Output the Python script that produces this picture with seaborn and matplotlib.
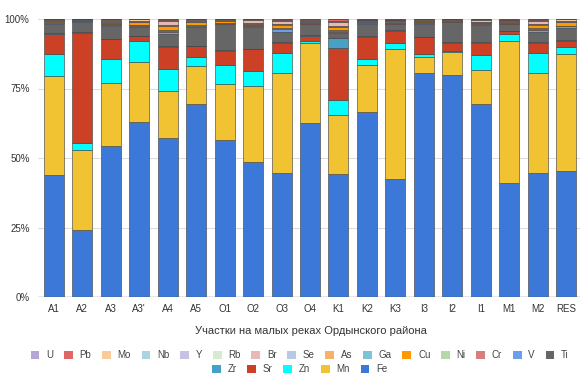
import numpy as np
import pandas as pd
import matplotlib
matplotlib.use("Agg")
import matplotlib.pyplot as plt
import seaborn as sns
from matplotlib.patches import Patch
from matplotlib.ticker import PercentFormatter

sites = ["A1", "A2", "A3", "A3'", "A4", "A5", "O1", "O2", "O3", "O4",
         "K1", "K2", "K3", "I3", "I2", "I1", "M1", "M2", "RES"]

# element shares, %
Fe = [43.9, 24.3, 54.4, 63.1, 57.1, 69.7, 56.4, 48.5, 44.5, 62.8, 44.1, 66.5, 42.4, 80.7, 79.9, 69.4, 41.0, 44.5, 45.3]
Mn = [35.8, 28.6, 22.7, 21.6, 17.2, 13.5, 20.5, 27.6, 35.9, 28.7, 21.4, 17.0, 46.7, 5.7, 8.3, 12.3, 51.1, 35.9, 42.4]
Zn = [7.8, 2.5, 8.4, 7.6, 7.6, 3.2, 6.6, 5.2, 7.1, 0.9, 5.4, 2.2, 2.4, 0.9, 0.6, 5.4, 2.5, 7.3, 2.2]
Sr = [7.2, 39.7, 7.2, 1.7, 8.1, 4.0, 5.3, 7.8, 3.8, 1.8, 18.8, 7.9, 4.3, 6.1, 2.8, 4.4, 1.1, 3.6, 2.4]
Zr = [0.3, 0.2, 0.3, 0.2, 0.3, 0.2, 0.2, 0.2, 0.3, 0.2, 3.4, 0.2, 0.2, 0.2, 0.2, 0.2, 0.1, 0.3, 0.2]
Ti = [3.3, 3.7, 4.6, 3.2, 4.4, 6.7, 9.2, 8.0, 3.7, 3.8, 1.8, 4.4, 2.0, 4.7, 7.1, 6.2, 2.3, 3.7, 4.5]
V  = [0.3, 0.2, 0.4, 0.4, 0.8, 0.3, 0.2, 0.4, 0.8, 0.2, 0.4, 0.3, 0.3, 0.3, 0.3, 0.3, 0.3, 0.8, 0.5]
Cr = [0.2, 0.2, 0.2, 0.2, 0.3, 0.2, 0.2, 0.2, 0.3, 0.2, 0.4, 0.2, 0.2, 0.2, 0.1, 0.2, 0.2, 0.3, 0.2]
Ni = [0.1, 0.1, 0.1, 0.1, 0.2, 0.1, 0.1, 0.1, 0.2, 0.1, 0.2, 0.1, 0.1, 0.1, 0.1, 0.1, 0.1, 0.2, 0.1]
Cu = [0.5, 0.1, 0.3, 0.8, 1.4, 1.0, 0.6, 0.3, 1.1, 0.3, 1.0, 0.3, 0.4, 0.3, 0.1, 0.3, 0.3, 1.2, 1.2]
Ga = [0.1, 0.05, 0.1, 0.1, 0.3, 0.1, 0.1, 0.1, 0.2, 0.1, 0.3, 0.1, 0.1, 0.1, 0.05, 0.1, 0.1, 0.2, 0.1]
As = [0.1, 0.05, 0.1, 0.1, 0.3, 0.1, 0.1, 0.1, 0.2, 0.1, 0.2, 0.1, 0.1, 0.1, 0.05, 0.1, 0.1, 0.2, 0.1]
Se = [0.05] * 19
Br = [0.1, 0.05, 0.6, 0.3, 1.2, 0.4, 0.2, 1.1, 1.0, 0.2, 1.4, 0.2, 0.2, 0.2, 0.1, 0.5, 0.2, 1.0, 0.2]
Rb = [0.05] * 19
Y  = [0.05] * 19
Nb = [0.05] * 19
Mo = [0.1, 0.05, 0.3, 0.4, 0.4, 0.3, 0.1, 0.1, 0.3, 0.3, 0.2, 0.1, 0.1, 0.1, 0.1, 0.1, 0.1, 0.3, 0.4]
Pb = [0.1, 0.05, 0.1, 0.1, 0.2, 0.1, 0.1, 0.1, 0.2, 0.2, 0.7, 0.2, 0.2, 0.1, 0.1, 0.1, 0.3, 0.2, 0.1]
U  = [0.05] * 19

elements = ["U", "Pb", "Mo", "Nb", "Y", "Rb", "Br", "Se", "As", "Ga",
            "Cu", "Ni", "Cr", "V", "Ti", "Zr", "Sr", "Zn", "Mn", "Fe"]
series = [U, Pb, Mo, Nb, Y, Rb, Br, Se, As, Ga, Cu, Ni, Cr, V, Ti, Zr, Sr, Zn, Mn, Fe]
colors = ["#b4a7d6", "#e06666", "#f9cb9c", "#a9d5e0", "#c9c1e3", "#d9ead3",
          "#e6b8b7", "#b8c9e1", "#f6b26b", "#7fc3d6", "#ff9900", "#b6d7a8",
          "#d67f7f", "#6d9eeb", "#666666", "#45a1c5", "#cc4125", "#00ffff",
          "#f1c232", "#3c78d8"]

rows = []
for el, vals in zip(elements, series):
    for s, v in zip(sites, vals):
        rows.append({"site": s, "element": el, "value": v})
df = pd.DataFrame(rows)
df["site"] = pd.Categorical(df["site"], categories=sites, ordered=True)

sns.set_theme(style="white")
plt.rcParams["font.family"] = ["Liberation Sans", "DejaVu Sans"]

fig = plt.figure(figsize=(5.82, 3.78), dpi=100)
ax = fig.add_axes([38 / 582, 1 - 297 / 378, (580 - 38) / 582, (297 - 19) / 378])

sns.histplot(data=df, x="site", weights="value", hue="element",
             hue_order=elements, palette=dict(zip(elements, colors)),
             multiple="fill", discrete=True, shrink=0.7, alpha=1,
             edgecolor=(0.25, 0.25, 0.25, 0.7), linewidth=0.6,
             legend=False, ax=ax)

ax.set_xlim(-0.56, 18.49)
ax.set_ylim(0, 1.0)
ax.set_yticks([0, 0.25, 0.5, 0.75, 1.0])
ax.yaxis.set_major_formatter(PercentFormatter(1.0, decimals=0))
ax.set_xticks(range(len(sites)))
ax.set_xticklabels(sites)
ax.tick_params(axis="both", length=0, labelsize=7, colors="#333333")
ax.tick_params(axis="x", pad=5)
ax.tick_params(axis="y", pad=6)
for sp in ax.spines.values():
    sp.set_visible(False)
ax.yaxis.grid(True, color="#dcdcdc", linewidth=0.8)
ax.set_axisbelow(True)
ax.axhline(0, color="#444444", linewidth=0.9, zorder=5)
ax.set_xlabel("")
ax.set_ylabel("")

fig.text(311 / 582, 1 - 331 / 378, "Участки на малых реках Ордынского района",
         ha="center", va="center", fontsize=8, color="#333333")

cmap = dict(zip(elements, colors))
h1 = [Patch(facecolor=cmap[e], edgecolor="none") for e in elements[:15]]
h2 = [Patch(facecolor=cmap[e], edgecolor="none") for e in elements[15:]]
kw = dict(frameon=False, fontsize=7, handlelength=0.9, handleheight=0.9,
          handletextpad=0.7, columnspacing=1.1, labelcolor="#444444",
          borderaxespad=0, borderpad=0)
fig.legend(h1, elements[:15], loc="center", bbox_to_anchor=(0.515, 1 - 355 / 378),
           ncol=15, **kw)
fig.legend(h2, elements[15:], loc="center", bbox_to_anchor=(0.515, 1 - 369 / 378),
           ncol=5, **kw)

fig.savefig("out.png", dpi=100)
